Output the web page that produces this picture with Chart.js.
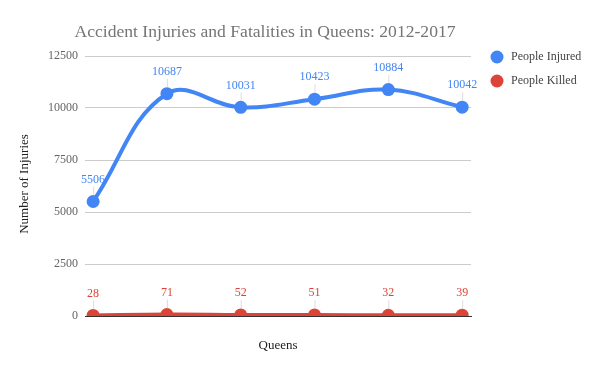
<!DOCTYPE html>
<html><head><meta charset="utf-8">
<script src="https://cdn.jsdelivr.net/npm/chart.js@4/dist/chart.umd.min.js"></script>
<style>html,body{margin:0;padding:0;background:#fff}#c{display:block}</style>
</head><body>
<canvas id="c" width="591" height="367"></canvas>
<script>
const years = ["2012","2013","2014","2015","2016","2017"];
const peopleInjured = [5506, 10687, 10031, 10423, 10884, 10042];
const peopleKilled = [28, 71, 52, 51, 32, 39];
const yTicks = [0, 2500, 5000, 7500, 10000, 12500];
const chartTitle = "Accident Injuries and Fatalities in Queens: 2012-2017";
const yTitle = "Number of Injuries";
const xTitle = "Queens";

const BLUE = "#4285f4", RED = "#db4437";
const SERIF = "'Liberation Serif','Times New Roman',serif";

const extras = {
  id: 'extras',
  afterDatasetsDraw(chart) {
    const ctx = chart.ctx;
    ctx.save();
    chart.data.datasets.forEach((ds, di) => {
      const meta = chart.getDatasetMeta(di);
      meta.data.forEach((pt, i) => {
        const x = pt.x, y = pt.y;
        ctx.strokeStyle = 'rgba(190,190,190,0.5)';
        ctx.lineWidth = 1;
        ctx.beginPath(); ctx.moveTo(x + 0.5, y - 6); ctx.lineTo(x + 0.5, y - 15); ctx.stroke();
        ctx.fillStyle = ds.borderColor;
        ctx.font = "12px " + SERIF;
        ctx.textAlign = 'center'; ctx.textBaseline = 'middle';
        ctx.fillText(String(ds.data[i].y), x, y - 22);
      });
    });
    ctx.restore();
  },
  afterDraw(chart) {
    const ctx = chart.ctx;
    ctx.save();
    ctx.fillStyle = '#757575';
    ctx.font = "17.6px " + SERIF;
    ctx.textAlign = 'center'; ctx.textBaseline = 'middle';
    ctx.fillText(chartTitle, 265, 32);
    ctx.fillStyle = '#222';
    ctx.font = "13px " + SERIF;
    ctx.fillText(xTitle, 278, 346);
    ctx.save();
    ctx.translate(25, 184); ctx.rotate(-Math.PI / 2);
    ctx.fillText(yTitle, 0, 0);
    ctx.restore();
    ctx.textAlign = 'left';
    ctx.font = "12px " + SERIF;
    chart.data.datasets.forEach((ds, di) => {
      const cy = 57 + di * 24;
      ctx.fillStyle = ds.borderColor;
      ctx.beginPath(); ctx.arc(497, cy, 6.5, 0, Math.PI * 2); ctx.fill();
      ctx.fillStyle = '#444';
      ctx.fillText(ds.label, 511, cy);
    });
    ctx.restore();
  }
};

new Chart(document.getElementById('c'), {
  type: 'line',
  data: {
    datasets: [
      { label: 'People Injured', data: peopleInjured.map((v, i) => ({x: i, y: v})),
        borderColor: BLUE, backgroundColor: BLUE, borderWidth: 4, tension: 0.4,
        pointRadius: 6.5, pointHoverRadius: 6.5, pointBorderWidth: 0 },
      { label: 'People Killed', data: peopleKilled.map((v, i) => ({x: i, y: v})),
        borderColor: RED, backgroundColor: RED, borderWidth: 4, tension: 0.4,
        pointRadius: 6.5, pointHoverRadius: 6.5, pointBorderWidth: 0 }
    ]
  },
  options: {
    responsive: false, animation: false,
    events: [],
    layout: { padding: { top: 56, bottom: 51, left: 0, right: 120 } },
    plugins: { legend: { display: false }, title: { display: false }, tooltip: { enabled: false } },
    scales: {
      x: {
        type: 'linear', min: -0.11, max: 5.12,
        grid: { display: false, drawTicks: false },
        border: { display: true, color: '#333', width: 1 },
        ticks: { display: false },
        afterFit(s) { s.height = 0; }
      },
      y: {
        min: 0, max: 12500,
        afterBuildTicks(s) { s.ticks = yTicks.map(v => ({ value: v })); },
        grid: { color: '#cccccc', drawTicks: false },
        border: { display: false },
        ticks: { padding: 7, color: '#666', font: { family: SERIF, size: 12 },
                 callback: (v) => String(v) },
        afterFit(s) { s.width = 85; }
      }
    }
  },
  plugins: [extras]
});
</script>
</body></html>
